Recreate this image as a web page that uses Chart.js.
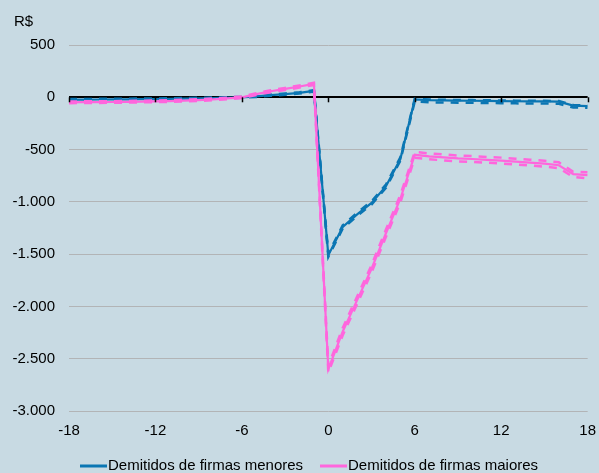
<!DOCTYPE html>
<html>
<head>
<meta charset="utf-8">
<script src="https://cdn.jsdelivr.net/npm/chart.js@4"></script>
<style>
  html, body { margin: 0; padding: 0; background: #c8dae3; }
  #c { display: block; }
</style>
</head>
<body>
<canvas id="c" width="599" height="473"></canvas>
<script>
// months relative to dismissal
const months = [];
for (let m = -18; m <= 18; m++) months.push(m);

// R$ — smaller firms
const menores = [-22, -22, -21, -20, -20, -18, -17, -15, -13, -11, -8, -4, 0, 8, 20, 30, 42, 62,
  -1510, -1240, -1120, -1010, -850, -590, -20, -28, -30, -32, -33, -35, -36, -38, -40, -40, -42, -80, -85];
const menoresHi = [-16, -16, -15, -14, -14, -12, -11, -9, -7, -5, -3, 1, 4, 13, 26, 36, 48, 68,
  -1495, -1225, -1105, -995, -835, -575, -14, -22, -24, -26, -27, -29, -30, -32, -34, -34, -36, -74, -79];
const menoresLo = [-28, -28, -27, -26, -26, -24, -23, -21, -19, -17, -13, -9, -4, 3, 14, 24, 36, 56,
  -1525, -1255, -1135, -1025, -865, -605, -40, -48, -50, -52, -53, -55, -56, -58, -60, -60, -62, -98, -100];

// R$ — larger firms
const maiores = [-48, -47, -46, -45, -43, -41, -39, -36, -32, -27, -20, -11, 0, 30, 58, 80, 103, 128,
  -2600, -2240, -1940, -1640, -1300, -970, -550, -565, -575, -585, -590, -598, -605, -615, -625, -635, -650, -735, -745];
const maioresHi = [-40, -39, -38, -37, -35, -33, -31, -28, -24, -19, -12, -3, 8, 38, 67, 90, 113, 138,
  -2570, -2205, -1905, -1605, -1265, -935, -522, -537, -547, -557, -562, -570, -577, -587, -597, -607, -622, -712, -718];
const maioresLo = [-56, -55, -54, -53, -51, -49, -47, -44, -40, -35, -28, -19, -8, 22, 49, 70, 93, 118,
  -2630, -2275, -1975, -1675, -1335, -1005, -578, -593, -603, -613, -618, -626, -633, -643, -653, -663, -678, -762, -775];

const yTicks = [500, 0, -500, -1000, -1500, -2000, -2500, -3000];
const xTicks = [-18, -12, -6, 0, 6, 12, 18];

const BLUE = '#0b76b3';
const PINK = '#ff66dd';
const FONT = "'Liberation Sans', Arial, sans-serif";

const pts = arr => arr.map((v, i) => ({ x: months[i], y: v }));
const line = (arr, color, dashed) => ({
  data: pts(arr),
  borderColor: color,
  borderWidth: dashed ? 2.5 : 2.2,
  borderDash: dashed ? [8, 7] : [],
  pointRadius: 0,
  tension: 0,
  fill: false
});

const fmt = v => {
  const s = String(Math.abs(v)).replace(/\B(?=(\d{3})+(?!\d))/g, '.');
  return (v < 0 ? '-' : '') + s;
};

// zero-line tick marks, "R$" label and the legend
const extras = {
  id: 'extras',
  afterDraw(chart) {
    const { ctx, scales: { x, y } } = chart;
    ctx.save();
    const y0 = y.getPixelForValue(0);
    ctx.strokeStyle = '#000';
    ctx.lineWidth = 1.5;
    xTicks.forEach(t => {
      const px = Math.round(x.getPixelForValue(t)) + 0.5;
      ctx.beginPath(); ctx.moveTo(px, y0); ctx.lineTo(px, y0 + 5); ctx.stroke();
    });
    ctx.fillStyle = '#000';
    ctx.font = '15px ' + FONT;
    ctx.textBaseline = 'middle';
    ctx.textAlign = 'left';
    ctx.fillText('R$', 14, 22);

    const ly = 466;
    [[80, BLUE, 'Demitidos de firmas menores'], [320, PINK, 'Demitidos de firmas maiores']].forEach(([lx, c, txt]) => {
      ctx.strokeStyle = c; ctx.lineWidth = 3;
      ctx.beginPath(); ctx.moveTo(lx, ly); ctx.lineTo(lx + 27, ly); ctx.stroke();
      ctx.fillStyle = '#000';
      ctx.fillText(txt, lx + 28, ly);
    });
    ctx.restore();
  }
};

new Chart(document.getElementById('c'), {
  type: 'line',
  data: {
    datasets: [
      line(maiores, PINK, false),
      line(maioresHi, PINK, true),
      line(maioresLo, PINK, true),
      line(menores, BLUE, false),
      line(menoresHi, BLUE, true),
      line(menoresLo, BLUE, true)
    ]
  },
  options: {
    responsive: false,
    animation: false,
    layout: { padding: { top: 45, right: 3, left: 0, bottom: 0 } },
    plugins: { legend: { display: false }, tooltip: { enabled: false } },
    scales: {
      x: {
        type: 'linear', min: -18, max: 18,
        afterBuildTicks: s => { s.ticks = xTicks.map(v => ({ value: v })); },
        afterFit: s => { s.height = 62; },
        grid: { display: false },
        border: { display: false },
        ticks: { color: '#000', font: { family: FONT, size: 15 }, padding: 3, maxRotation: 0 }
      },
      y: {
        min: -3000, max: 500,
        afterBuildTicks: s => { s.ticks = yTicks.map(v => ({ value: v })); },
        afterFit: s => { s.width = 69; },
        grid: {
          drawTicks: false,
          color: c => c.tick && c.tick.value === 0 ? '#000' : '#b2b4b6',
          lineWidth: c => c.tick && c.tick.value === 0 ? 2 : 1
        },
        border: { display: false },
        ticks: { color: '#000', font: { family: FONT, size: 15 }, padding: 14, callback: v => fmt(v) }
      }
    }
  },
  plugins: [extras]
});
</script>
</body>
</html>
